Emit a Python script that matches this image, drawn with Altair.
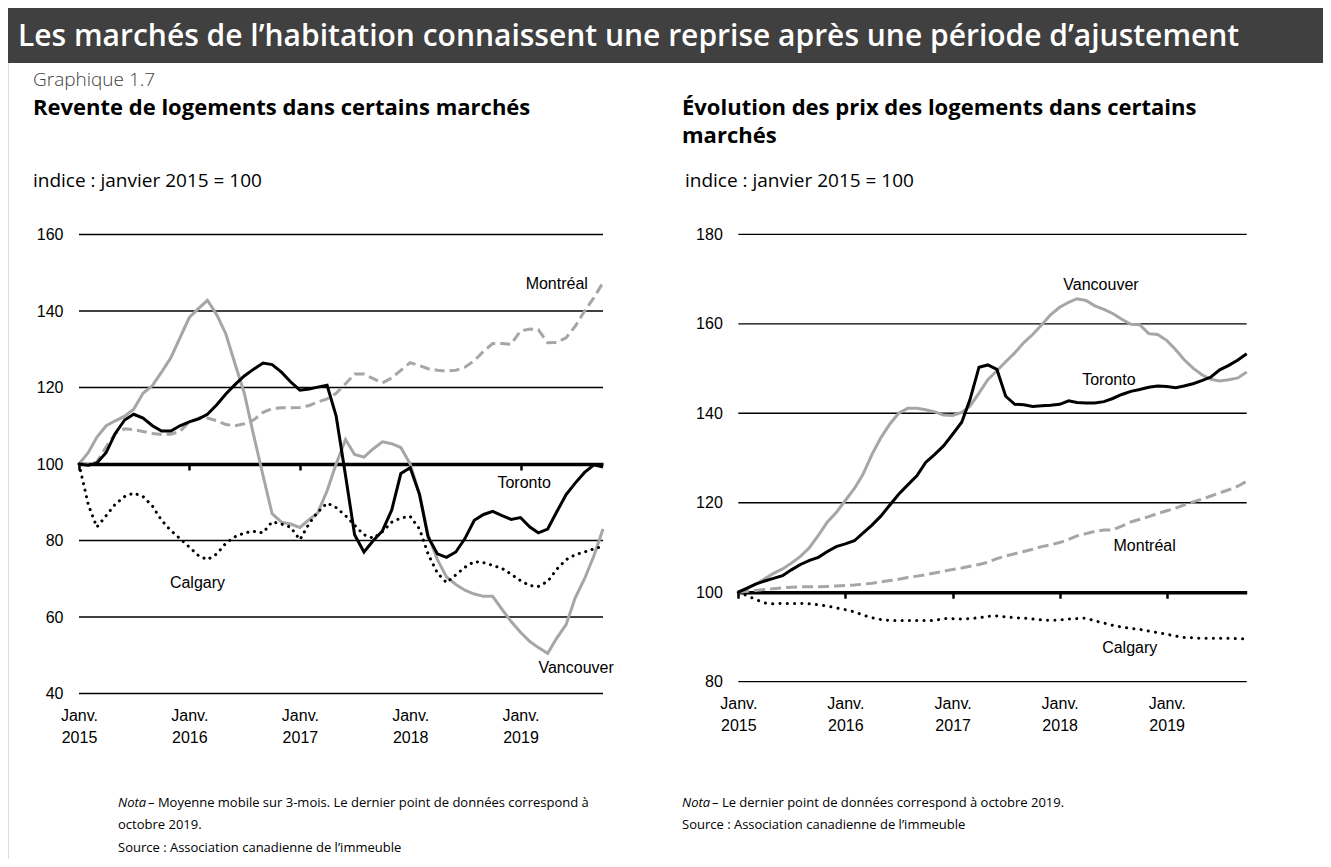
import altair as alt
import pandas as pd

# ---------------- data ----------------
months = [d.strftime("%Y-%m-%d") for d in pd.date_range("2015-01-01", periods=58, freq="MS")]

# Left panel: home resales (index Jan 2015 = 100)
resale_toronto = [100, 99.7, 100.2, 103, 108, 111.5, 113, 112, 110, 108.6,
                  108.6, 110, 111, 111.8, 113, 115.5, 118.3, 120.8, 123, 124.8,
                  126.4, 126, 124, 121.5, 119.3, 119.6, 120.1, 120.6, 112.5, 97,
                  81.5, 77, 80, 82.5, 88, 97.5, 99, 92, 81, 76.5,
                  75.6, 77, 80.5, 85.3, 86.8, 87.6, 86.5, 85.5, 86, 83.5,
                  82, 83, 87.5, 92, 95, 97.8, 99.8, 99.2]
resale_vancouver = [100, 103, 107, 110, 111.3, 112.5, 114.3, 118.5, 120.5, 124,
                    127.8, 133, 138.3, 140.7, 142.8, 139, 134, 126, 118.5, 107.5,
                    97, 87, 84.8, 84.3, 83.4, 85.5, 87.2, 93, 100, 106.4,
                    102.5, 101.8, 104, 105.8, 105.3, 104.3, 100, 92, 81.5, 75,
                    70.5, 68.5, 67, 66, 65.4, 65.4, 62, 58.8, 56, 53.6,
                    52, 50.5, 54.5, 58, 65, 70, 76, 83]
resale_montreal = [100, 100, 100.5, 104.5, 108, 109.2, 109, 108.5, 108, 107.7,
                   107.8, 108.5, 111, 112, 112, 111.3, 110.3, 110, 110.5, 111.5,
                   113.5, 114.5, 114.7, 114.7, 114.8, 115.3, 116.2, 117, 118.5, 121,
                   123.5, 123.5, 122.3, 121.2, 122.5, 124.5, 126.5, 125.7, 124.9, 124.5,
                   124.3, 124.5, 125.3, 127, 129.5, 131.5, 131.5, 131.3, 134.8, 135.3,
                   135.1, 131.7, 131.8, 133, 136, 140, 143.5, 147.4]
resale_calgary = [100, 89.3, 83.5, 86.5, 89.5, 91.5, 92.4, 91.5, 89, 85.3,
                  82.6, 80.5, 78.3, 76, 75, 76.5, 79.3, 81, 82, 82.4,
                  82, 84.9, 84.3, 83.5, 80.2, 84.5, 87.4, 89.8, 88.6, 86.5,
                  84, 81.5, 80.6, 82.3, 84.8, 85.9, 86.3, 83, 76.5, 71.5,
                  69, 71, 73, 74.5, 74.2, 73.5, 72.7, 71.2, 69.5, 68.2,
                  68, 69.3, 72.5, 75, 76.3, 77, 77.8, 78.5]

# Right panel: home prices (index Jan 2015 = 100)
price_vancouver = [100, 101, 101.8, 103, 104.2, 105.2, 106.5, 108, 110, 112.7,
                   115.7, 117.8, 120.5, 123.2, 126.3, 130.8, 134.5, 137.6, 140, 141.1,
                   141.1, 140.8, 140.3, 139.6, 139.5, 140.2, 141.6, 144.5, 147.5, 149.5,
                   151.5, 153.5, 155.8, 157.6, 159.8, 162, 163.7, 164.8, 165.6, 165.2,
                   164, 163.2, 162.3, 161, 159.9, 159.8, 157.8, 157.6, 156.3, 154.2,
                   152, 150.1, 148.6, 147.6, 147.2, 147.5, 147.9, 149.2]
price_toronto = [100, 100.9, 101.8, 102.5, 103.1, 103.7, 105, 106.2, 107.1, 107.8,
                 109.1, 110.2, 110.8, 111.5, 113.2, 115, 117, 119.5, 121.9, 124,
                 126, 129, 130.8, 132.7, 135.3, 138, 143, 150.3, 150.8, 149.8,
                 143.8, 142, 141.9, 141.5, 141.7, 141.8, 142, 142.8, 142.4, 142.3,
                 142.3, 142.6, 143.3, 144.2, 144.9, 145.3, 145.8, 146.1, 146, 145.7,
                 146.1, 146.6, 147.3, 148.1, 149.7, 150.7, 151.9, 153.3]
price_montreal = [100, 100.2, 100.4, 100.6, 100.8, 101, 101.1, 101.2, 101.2, 101.2,
                  101.3, 101.4, 101.5, 101.6, 101.8, 102, 102.3, 102.6, 102.9, 103.3,
                  103.6, 103.9, 104.3, 104.7, 105.1, 105.4, 105.8, 106.2, 106.7, 107.5,
                  108.1, 108.6, 109.1, 109.6, 110.2, 110.6, 111.1, 111.8, 112.6, 113.1,
                  113.6, 113.9, 113.9, 114.8, 115.7, 116.3, 116.9, 117.6, 118.2, 118.8,
                  119.5, 120.2, 120.8, 121.5, 122.2, 122.9, 123.7, 124.8]
price_calgary = [100, 99.2, 98.4, 97.6, 97.4, 97.5, 97.5, 97.5, 97.4, 97.2,
                 96.9, 96.5, 96.1, 95.6, 94.9, 94.3, 93.9, 93.7, 93.7, 93.7,
                 93.7, 93.7, 93.7, 94.1, 94.1, 94, 94.1, 94.3, 94.6, 94.7,
                 94.5, 94.3, 94.2, 94, 93.8, 93.7, 93.8, 94, 94.1, 94.2,
                 93.6, 93.1, 92.6, 92.2, 91.9, 91.7, 91.3, 91, 90.6, 90.2,
                 89.9, 89.8, 89.7, 89.7, 89.7, 89.7, 89.6, 89.6]

left_yticks = [40, 60, 80, 100, 120, 140, 160]
right_yticks = [80, 100, 120, 140, 160, 180]

left_label_text = ["Montréal", "Toronto", "Calgary", "Vancouver"]
left_label_date = ["2019-05-01", "2019-01-13", "2016-01-28", "2019-07-04"]
left_label_value = [147.1, 95.0, 68.9, 46.7]

right_label_text = ["Vancouver", "Toronto", "Montréal", "Calgary"]
right_label_date = ["2018-05-22", "2018-06-18", "2018-10-18", "2018-08-28"]
right_label_value = [168.7, 147.4, 110.3, 87.5]

# ---------------- layout ----------------
W, H = 1315, 851
ONE = pd.DataFrame({"k": [0]})
GRAY = "#A6A6A6"
TICKFONT = "Liberation Sans"
TXTFONT = "Open Sans"


def dt(y, m, d=1):
    return alt.DateTime(year=y, month=m, date=d, utc=True)


START, END = dt(2015, 1), dt(2019, 10)
YEAR_TICKS = [dt(y, 1) for y in range(2015, 2020)]


def panel(series, ydomain, yticks, xr, yr, lab_text, lab_date, lab_value):
    rows = []
    for name, vals, *_ in series:
        for m, v in zip(months, vals):
            rows.append({"date": m, "value": v, "serie": name})
    df = pd.DataFrame(rows)

    xscale = alt.Scale(type="utc", domain=[START, END], range=xr, nice=False)
    yscale = alt.Scale(domain=ydomain, range=yr, nice=False, zero=False)
    y100 = yr[0] - (100 - ydomain[0]) / (ydomain[1] - ydomain[0]) * (yr[0] - yr[1])

    grid = alt.Chart(pd.DataFrame({"v": yticks})).mark_rule(
        color="black", strokeWidth=1.3
    ).encode(
        x=alt.XDatum(START, type="temporal", scale=xscale,
                     axis=alt.Axis(orient="bottom", offset=y100 - H, values=YEAR_TICKS,
                                   labels=False, grid=False, title=None,
                                   domain=True, domainColor="black", domainWidth=3.5,
                                   ticks=True, tickColor="black", tickWidth=2.5, tickSize=6)),
        x2=alt.X2Datum(END),
        y=alt.Y("v:Q", scale=yscale,
                axis=alt.Axis(orient="left", offset=-xr[0], values=yticks,
                              labelFont=TICKFONT, labelFontSize=16, labelColor="black",
                              labelPadding=16, labelFlush=False,
                              ticks=False, domain=False, grid=False, title=None)),
    )

    layers = [grid]
    for i, (name, vals, color, dash, cap) in enumerate(series):
        if i == 0:
            xenc = alt.X("date:T", scale=xscale,
                         axis=alt.Axis(orient="bottom", offset=yr[0] - H, values=YEAR_TICKS,
                                       labelExpr="['Janv.', utcFormat(datum.value, '%Y')]",
                                       labelFont=TICKFONT, labelFontSize=16, labelColor="black",
                                       labelLineHeight=22, labelPadding=14, labelFlush=False,
                                       labelOverlap=False, labelAlign="center",
                                       ticks=False, domain=False, grid=False, title=None))
        else:
            xenc = alt.X("date:T", scale=xscale, axis=None)
        yenc = alt.Y("value:Q", scale=yscale, axis=None)
        mk = dict(color=color, strokeWidth=3, strokeCap=cap)
        if dash:
            mk["strokeDash"] = dash
        layers.append(
            alt.Chart(df).transform_filter(alt.datum.serie == name)
            .mark_line(**mk).encode(x=xenc, y=yenc)
        )

    labels = alt.Chart(pd.DataFrame({"date": lab_date, "value": lab_value, "t": lab_text})).mark_text(
        font=TICKFONT, fontSize=16, color="black", align="center", baseline="middle"
    ).encode(
        x=alt.X("date:T", scale=xscale, axis=None),
        y=alt.Y("value:Q", scale=yscale, axis=None),
        text="t:N",
    )
    layers.append(labels)
    return alt.layer(*layers).resolve_axis(x="independent", y="independent")


left = panel(
    [("Montréal", resale_montreal, GRAY, [10, 5], "butt"),
     ("Vancouver", resale_vancouver, GRAY, None, "butt"),
     ("Calgary", resale_calgary, "black", [0.1, 6.6], "round"),
     ("Toronto", resale_toronto, "black", None, "butt")],
    [40, 160], left_yticks, [71, 595], [685.5, 226.5],
    left_label_text, left_label_date, left_label_value,
)

right = panel(
    [("Montréal", price_montreal, GRAY, [11, 5], "butt"),
     ("Vancouver", price_vancouver, GRAY, None, "butt"),
     ("Calgary", price_calgary, "black", [0.1, 7.2], "round"),
     ("Toronto", price_toronto, "black", None, "butt")],
    [80, 180], right_yticks, [730.3, 1238.7], [673.7, 226.3],
    right_label_text, right_label_date, right_label_value,
)


def txt(s, x, y, size, font=TXTFONT, weight="normal", style="normal", color="black"):
    return alt.Chart(ONE).mark_text(
        text=s, font=font, fontSize=size, fontWeight=weight, fontStyle=style,
        color=color, align="left", baseline="middle"
    ).encode(x=alt.value(x), y=alt.value(y))


band = alt.Chart(ONE).mark_rect(color="#404040").encode(
    x=alt.value(0), x2=alt.value(W), y=alt.value(0), y2=alt.value(55)
)

deco = [
    band,
    txt("Les marchés de l’habitation connaissent une reprise après une période d’ajustement",
        10, 29, 30, weight=600, color="white"),
    txt("Graphique 1.7", 25, 72, 19, weight=300, color="#404040"),
    txt("Revente de logements dans certains marchés", 25, 100, 22, weight="bold"),
    txt("Évolution des prix des logements dans certains", 674, 100, 22, weight="bold"),
    txt("marchés", 674, 128, 22, weight="bold"),
    txt("indice : janvier 2015 = 100", 25, 173, 19),
    txt("indice : janvier 2015 = 100", 677, 173, 19),
    txt("Nota", 110, 795, 13, style="italic"),
    txt("– Moyenne mobile sur 3-mois. Le dernier point de données correspond à", 140, 795, 13),
    txt("octobre 2019.", 110, 817, 13),
    txt("Source : Association canadienne de l’immeuble", 110, 840, 13),
    txt("Nota", 674, 795, 13, style="italic"),
    txt("– Le dernier point de données correspond à octobre 2019.", 704, 795, 13),
    txt("Source : Association canadienne de l’immeuble", 674, 817, 13),
]

chart = alt.layer(left, right, *deco).resolve_scale(
    x="independent", y="independent"
).properties(
    width=W, height=H, autosize="none", padding=0
).configure_view(stroke=None).configure(background="white")

chart.save("out.html", embed_options={"renderer": "svg", "actions": False})
